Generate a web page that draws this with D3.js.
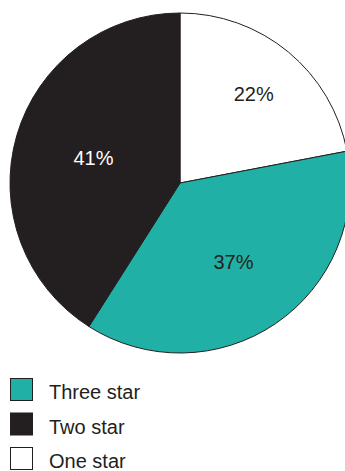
<!DOCTYPE html>
<html>
<head>
<meta charset="utf-8">
<script src="https://cdn.jsdelivr.net/npm/d3@7"></script>
<style>
    body { margin: 0; background: #ffffff; }
    #star-chart { width: 345px; height: 471px; overflow: hidden; }
    text { font-family: "Liberation Sans", Arial, sans-serif; }
</style>
</head>
<body>
<div id="star-chart"></div>
<script>

// Data (legend order)
var categories = ["Three star", "Two star", "One star"];
var shares = [37, 41, 22];

// clockwise order of the slices, starting at 12 o'clock
var sliceOrder = ["One star", "Three star", "Two star"];


/*
 * StarPieVis - Object constructor function
 * @param _parentElement 	-- the HTML element in which to draw the visualization
 */

StarPieVis = function(_parentElement){
    this.parentElement = _parentElement;

    this.initVis();
}


/*
 * Initialize visualization (static content)
 */

StarPieVis.prototype.initVis = function(){
    var vis = this;

    vis.width = 345;
    vis.height = 471;

    vis.svg = d3.select("#" + vis.parentElement).append("svg")
        .attr("width", vis.width)
        .attr("height", vis.height);

    vis.radius = 170;

    vis.pieG = vis.svg.append("g")
        .attr("class", "slices")
        .attr("transform", "translate(180,183)");

    vis.legendG = vis.svg.append("g")
        .attr("class", "legend")
        .attr("transform", "translate(10,378)");

    // Scales
    vis.color = d3.scaleOrdinal()
        .domain(categories)
        .range(["#20b0a5", "#231f20", "#ffffff"]);

    vis.textColor = d3.scaleOrdinal()
        .domain(categories)
        .range(["#231f20", "#ffffff", "#231f20"]);

    // label distance from the centre, as share of the radius
    vis.labelDist = d3.scaleOrdinal()
        .domain(categories)
        .range([0.56, 0.53, 0.68]);

    vis.pie = d3.pie()
        .value(function(d){ return d.value; })
        .sort(null);

    vis.arc = d3.arc()
        .outerRadius(vis.radius)
        .innerRadius(0);

    vis.wrangleData();
}


/*
 * Data wrangling
 */

StarPieVis.prototype.wrangleData = function(){
    var vis = this;

    vis.displayData = sliceOrder.map(function(name){
        return { name: name, value: shares[categories.indexOf(name)] };
    });

    vis.updateVis();
}


/*
 * The drawing function
 */

StarPieVis.prototype.updateVis = function(){
    var vis = this;

    var arcs = vis.pie(vis.displayData);

    vis.pieG.selectAll("path")
        .data(arcs)
        .enter().append("path")
        .attr("d", vis.arc)
        .attr("fill", function(d){ return vis.color(d.data.name); })
        .attr("stroke", "#231f20")
        .attr("stroke-width", 1);

    vis.pieG.selectAll("text")
        .data(arcs)
        .enter().append("text")
        .attr("transform", function(d){
            var r = vis.radius * vis.labelDist(d.data.name);
            var a = (d.startAngle + d.endAngle) / 2;
            return "translate(" + (r * Math.sin(a)) + "," + (-r * Math.cos(a)) + ")";
        })
        .attr("text-anchor", "middle")
        .attr("dy", "0.36em")
        .attr("font-size", "20px")
        .attr("fill", function(d){ return vis.textColor(d.data.name); })
        .text(function(d){ return d.data.value + "%"; });

    // Legend
    var item = vis.legendG.selectAll("g")
        .data(categories)
        .enter().append("g")
        .attr("transform", function(d, i){ return "translate(0," + (i * 34.5) + ")"; });

    item.append("rect")
        .attr("x", 0.5)
        .attr("y", 0.5)
        .attr("width", 22)
        .attr("height", 22)
        .attr("fill", function(d){ return vis.color(d); })
        .attr("stroke", "#231f20")
        .attr("stroke-width", 1);

    item.append("text")
        .attr("x", 39)
        .attr("y", 21)
        .attr("font-size", "20px")
        .attr("fill", "#231f20")
        .text(function(d){ return d; });
}

var starVis = new StarPieVis("star-chart");

</script>
</body>
</html>
